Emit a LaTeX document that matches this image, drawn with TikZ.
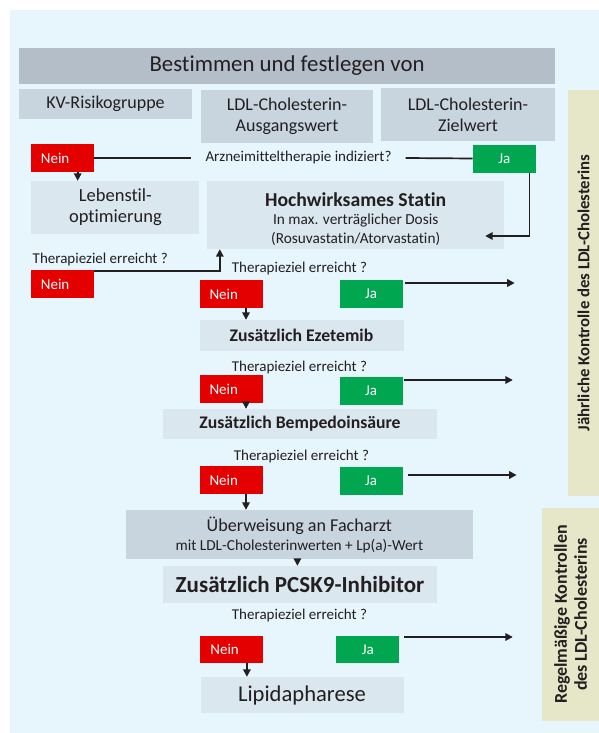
\documentclass[tikz,border=0pt]{standalone}
\usepackage{fontspec}
\setmainfont{Carlito}[Ligatures={NoCommon}]
\usetikzlibrary{arrows.meta}
\definecolor{panelblue}{HTML}{E7F5FD}
\definecolor{titlegray}{HTML}{B4BEC8}
\definecolor{rowgray}{HTML}{C8D5DF}
\definecolor{lightbox}{HTML}{DAE7EF}
\definecolor{neinred}{HTML}{E50000}
\definecolor{jagreen}{HTML}{00A650}
\definecolor{beige}{HTML}{E6E6C8}
\definecolor{darktext}{HTML}{231F20}
\begin{document}
\begin{tikzpicture}[x=1pt,y=-1pt,
  box/.style={fill=lightbox,text=darktext,inner sep=0pt,align=center},
  rowbox/.style={box,fill=rowgray},
  nein/.style={fill=neinred,text=white,minimum width=63pt,minimum height=28pt,
    inner sep=0pt,text width=43pt,align=left,font=\fontsize{15}{17}\selectfont},
  ja/.style={fill=jagreen,text=white,minimum width=63pt,minimum height=28pt,
    inner sep=0pt,font=\fontsize{15}{17}\selectfont},
  frage/.style={text=darktext,inner sep=1pt,font=\fontsize{15}{17}\selectfont},
  conn/.style={draw=darktext,line width=1.7pt},
  arr/.style={conn,-{Triangle[width=7.5pt,length=7.5pt]}},
  kontrolle/.style={fill=beige,text=darktext,rotate=90,inner sep=0pt,align=center,
    font=\bfseries\fontsize{16.8}{20}\selectfont}]
  \useasboundingbox (0,0) rectangle (599,733);
  \fill[white] (0,0) rectangle (599,733);
  \fill[panelblue] (10,10) rectangle (599,733);

  \node[rowbox,fill=titlegray,minimum width=536pt,minimum height=36pt,
    font=\fontsize{22.8}{26}\selectfont] (titel) at (287,66) {Bestimmen und festlegen von};
  \node[rowbox,minimum width=173pt,minimum height=30pt,
    font=\fontsize{18}{21}\selectfont] (kv) at (105.5,104) {KV-Risikogruppe};
  \node[rowbox,minimum width=172pt,minimum height=53pt,
    font=\fontsize{18}{21}\selectfont] (ausgang) at (287,116.5) {LDL-Cholesterin-\\Ausgangswert};
  \node[rowbox,minimum width=173.5pt,minimum height=53pt,
    font=\fontsize{18}{21}\selectfont] (zielwert) at (468,114.5) {LDL-Cholesterin-\\Zielwert};

  \node[nein] (nein1) at (62.4,158) {Nein};
  \node[frage,inner xsep=14pt] (frage0) at (298.5,158) {Arzneimitteltherapie indiziert?};
  \node[ja] (ja1) at (504.4,158.5) {Ja};
  \node[box,minimum width=168pt,minimum height=53pt,
    font=\fontsize{18.5}{21}\selectfont] (lebenstil) at (115.4,207.5) {Lebenstil-\\optimierung};
  \node[box,minimum width=296.6pt,minimum height=68pt,
    label={[align=center,text=darktext,yshift=-4pt,font=\fontsize{15.3}{18.5}\selectfont]center:%
      {{\bfseries\fontsize{19.7}{18.5}\selectfont Hochwirksames Statin}\\In max. verträglicher Dosis\\(Rosuvastatin/Atorvastatin)}}]
    (statin) at (355.7,215) {};

  \node[frage,anchor=west] (frage1) at (31.5,259) {Therapieziel erreicht ?};
  \node[nein] (nein2) at (62.4,284) {Nein};
  \node[frage] (frage2) at (299.5,268) {Therapieziel erreicht ?};
  \node[nein] (nein3) at (231,294) {Nein};
  \node[ja] (ja3) at (371,294) {Ja};
  \node[box,minimum width=204pt,minimum height=31pt,
    font=\bfseries\fontsize{17.7}{20}\selectfont] (ezetemib) at (301.5,335.5) {Zusätzlich Ezetemib};

  \node[frage] (frage3) at (299.4,367) {Therapieziel erreicht ?};
  \node[nein] (nein4) at (231,389) {Nein};
  \node[ja] (ja4) at (371,391) {Ja};
  \node[box,minimum width=274.8pt,minimum height=30pt,
    font=\bfseries\fontsize{17.7}{20}\selectfont] (bempedo) at (300,424) {Zusätzlich Bempedoinsäure};

  \node[frage] (frage4) at (301.4,456) {Therapieziel erreicht ?};
  \node[nein] (nein5) at (231,480) {Nein};
  \node[ja] (ja5) at (371,481) {Ja};
  \node[rowbox,minimum width=346.3pt,minimum height=49pt,
    font=\fontsize{18.1}{19}\selectfont] (ueberweisung) at (299.4,534.5)
    {Überweisung an Facharzt\\{\fontsize{15.3}{19}\selectfont mit LDL-Cholesterinwerten + Lp(a)-Wert}};
  \node[box,minimum width=274.8pt,minimum height=37pt,
    font=\bfseries\fontsize{23}{26}\selectfont] (pcsk9) at (300,584.5) {Zusätzlich PCSK9-Inhibitor};

  \node[frage] (frage5) at (299.5,615) {Therapieziel erreicht ?};
  \node[nein,minimum height=27pt] (nein6) at (231.9,649.5) {Nein};
  \node[ja,minimum height=27pt] (ja6) at (367.9,649.5) {Ja};
  \node[box,minimum width=203pt,minimum height=36pt,
    font=\fontsize{22.6}{26}\selectfont] (lipid) at (302,695) {Lipidapharese};

  \node[kontrolle,minimum width=406pt,minimum height=31pt] (jaehrlich) at (583.5,293)
    {Jährliche Kontrolle des LDL-Cholesterins};
  \node[kontrolle,minimum width=213pt,minimum height=57pt,
    font=\bfseries\fontsize{18}{20}\selectfont] (regel) at (570.5,614.5)
    {Regelmäßige Kontrollen\\des LDL-Cholesterins};

  \coordinate (k3) at (514.7,283);
  \coordinate (k4) at (512.8,380);
  \coordinate (k5) at (516.6,475);
  \coordinate (k6) at (512.8,637);

  \draw[conn] (nein1.east) -- (frage0.west);
  \draw[conn] (frage0.east) -- (ja1.west);
  \draw[arr] ([xshift=15.3pt]nein1.south) -- ([xshift=15.3pt]nein1.south |- lebenstil.north);
  \draw[arr] ([xshift=-6.7pt]ja1.south east) |- ([xshift=-19pt,yshift=-21pt]statin.east);
  \draw[arr] ([yshift=13pt]nein2.east) -| ([xshift=12.6pt]statin.south west);
  \draw[arr] ([xshift=2pt,yshift=11pt]ja3.east) -- (k3);
  \draw[arr] ([xshift=1pt,yshift=11pt]ja4.east) -- (k4);
  \draw[arr] ([xshift=5pt,yshift=6pt]ja5.east) -- (k5);
  \draw[arr] ([xshift=4.5pt,yshift=12.5pt]ja6.east) -- (k6);
  \foreach \a/\b in {nein3/ezetemib,nein4/bempedo,nein5/ueberweisung,nein6/lipid}
    \draw[arr] ([xshift=15pt]\a.south) -- ([xshift=15pt]\a.south |- \b.north);
  \draw[arr] ([xshift=-2pt]ueberweisung.south) -- ([xshift=-2pt]ueberweisung.south |- pcsk9.north);
\end{tikzpicture}
\end{document}
